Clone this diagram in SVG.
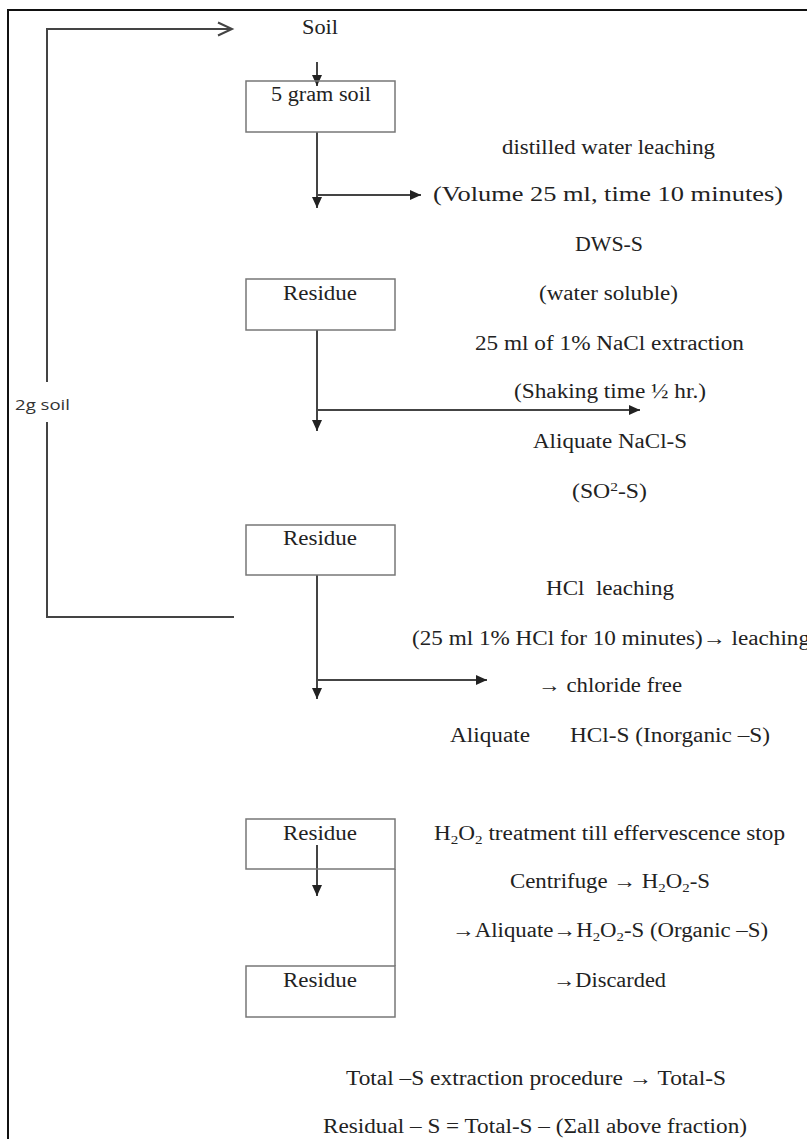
<svg xmlns="http://www.w3.org/2000/svg" width="807" height="1139" viewBox="0 0 807 1139">
<style>
.t{font-family:"Liberation Serif","Times New Roman",serif;font-size:20px;fill:#222}
.s{font-family:"Open Sans","Liberation Sans",sans-serif;font-size:15px;fill:#333}
.box{fill:none;stroke:#777;stroke-width:1.5}
.ln{fill:none;stroke:#444;stroke-width:2}
.sub{font-size:13px}
</style>
<defs>
<marker id="ah" markerUnits="userSpaceOnUse" markerWidth="12" markerHeight="10" refX="11" refY="5" orient="auto">
<path d="M0,0 L11,5 L0,10 z" fill="#222"/>
</marker>
</defs>
<rect width="807" height="1139" fill="#fff"/>
<rect x="8" y="10" width="900" height="1200" fill="none" stroke="#111" stroke-width="2"/>

<g id="connectors">
<polyline class="ln" points="47,382 47,29 232,29"/>
<polyline class="ln" points="218,22.5 232,29 218,35.5"/>
<polyline class="ln" points="47,422 47,617 234,617"/>
<line class="ln" x1="317" y1="62" x2="317" y2="86" marker-end="url(#ah)"/>
<line class="ln" x1="317" y1="132" x2="317" y2="208" marker-end="url(#ah)"/>
<line class="ln" x1="317" y1="195" x2="421" y2="195" marker-end="url(#ah)"/>
<line class="ln" x1="317" y1="330" x2="317" y2="431" marker-end="url(#ah)"/>
<line class="ln" x1="317" y1="410" x2="640" y2="410" marker-end="url(#ah)"/>
<line class="ln" x1="317" y1="575" x2="317" y2="699" marker-end="url(#ah)"/>
<line class="ln" x1="317" y1="680" x2="487" y2="680" marker-end="url(#ah)"/>
<line class="ln" x1="317" y1="845" x2="317" y2="896" marker-end="url(#ah)"/>
<line class="box" x1="395" y1="869" x2="395" y2="966"/>
</g>

<g id="soil"><text class="t" x="302" y="34" textLength="36" lengthAdjust="spacingAndGlyphs">Soil</text></g>
<g id="gsoil2"><text class="s" x="15" y="410" textLength="55" lengthAdjust="spacingAndGlyphs">2g soil</text></g>

<g id="box-5g"><rect class="box" x="246" y="81" width="149" height="51"/>
<text class="t" x="271" y="101" textLength="100" lengthAdjust="spacingAndGlyphs">5 gram soil</text></g>

<g id="step-dw">
<text class="t" x="502" y="154" textLength="213" lengthAdjust="spacingAndGlyphs">distilled water leaching</text>
<text class="t" x="433" y="201" style="font-size:22px" textLength="350" lengthAdjust="spacingAndGlyphs">(Volume 25 ml, time 10 minutes)</text>
<text class="t" x="575" y="251" textLength="68" lengthAdjust="spacingAndGlyphs">DWS-S</text>
<text class="t" x="539" y="300" textLength="139" lengthAdjust="spacingAndGlyphs">(water soluble)</text>
</g>

<g id="box-res1"><rect class="box" x="246" y="279" width="149" height="51"/>
<text class="t" x="320" y="300" text-anchor="middle" textLength="74" lengthAdjust="spacingAndGlyphs">Residue</text></g>

<g id="step-nacl">
<text class="t" x="475" y="350" textLength="269" lengthAdjust="spacingAndGlyphs">25 ml of 1% NaCl extraction</text>
<text class="t" x="514" y="398" textLength="192" lengthAdjust="spacingAndGlyphs">(Shaking time ½ hr.)</text>
<text class="t" x="533" y="448" textLength="154" lengthAdjust="spacingAndGlyphs">Aliquate NaCl-S</text>
<text class="t" x="572" y="498" textLength="75" lengthAdjust="spacingAndGlyphs">(SO<tspan class="sub" dy="-7">2</tspan><tspan dy="7">-S)</tspan></text>
</g>

<g id="box-res2"><rect class="box" x="246" y="525" width="149" height="50"/>
<text class="t" x="320" y="545" text-anchor="middle" textLength="74" lengthAdjust="spacingAndGlyphs">Residue</text></g>

<g id="step-hcl">
<text class="t" x="546" y="595" textLength="128" lengthAdjust="spacingAndGlyphs" xml:space="preserve">HCl  leaching</text>
<text class="t" x="412" y="645" textLength="398" lengthAdjust="spacingAndGlyphs">(25 ml 1% HCl for 10 minutes)→ leaching</text>
<text class="t" x="538" y="692" textLength="144" lengthAdjust="spacingAndGlyphs">→ chloride free</text>
<text class="t" x="450" y="742" textLength="80" lengthAdjust="spacingAndGlyphs">Aliquate</text>
<text class="t" x="570" y="742" textLength="200" lengthAdjust="spacingAndGlyphs">HCl-S (Inorganic –S)</text>
</g>

<g id="box-res3"><rect class="box" x="246" y="819" width="149" height="50"/>
<text class="t" x="320" y="840" text-anchor="middle" textLength="74" lengthAdjust="spacingAndGlyphs">Residue</text></g>

<g id="step-h2o2">
<text class="t" x="434" y="840" textLength="351" lengthAdjust="spacingAndGlyphs">H<tspan class="sub" dy="4">2</tspan><tspan dy="-4">O</tspan><tspan class="sub" dy="4">2</tspan><tspan dy="-4"> treatment till effervescence stop</tspan></text>
<text class="t" x="510" y="888" textLength="200" lengthAdjust="spacingAndGlyphs">Centrifuge → H<tspan class="sub" dy="4">2</tspan><tspan dy="-4">O</tspan><tspan class="sub" dy="4">2</tspan><tspan dy="-4">-S</tspan></text>
<text class="t" x="452" y="937" textLength="316" lengthAdjust="spacingAndGlyphs">→Aliquate→H<tspan class="sub" dy="4">2</tspan><tspan dy="-4">O</tspan><tspan class="sub" dy="4">2</tspan><tspan dy="-4">-S (Organic –S)</tspan></text>
<text class="t" x="553" y="987" textLength="113" lengthAdjust="spacingAndGlyphs">→Discarded</text>
</g>

<g id="box-res4"><rect class="box" x="246" y="966" width="149" height="51"/>
<text class="t" x="320" y="987" text-anchor="middle" textLength="74" lengthAdjust="spacingAndGlyphs">Residue</text></g>

<g id="totals">
<text class="t" x="346" y="1085" textLength="380" lengthAdjust="spacingAndGlyphs">Total –S extraction procedure → Total-S</text>
<text class="t" x="323" y="1133" textLength="424" lengthAdjust="spacingAndGlyphs">Residual – S = Total-S – (Σall above fraction)</text>
</g>
</svg>
